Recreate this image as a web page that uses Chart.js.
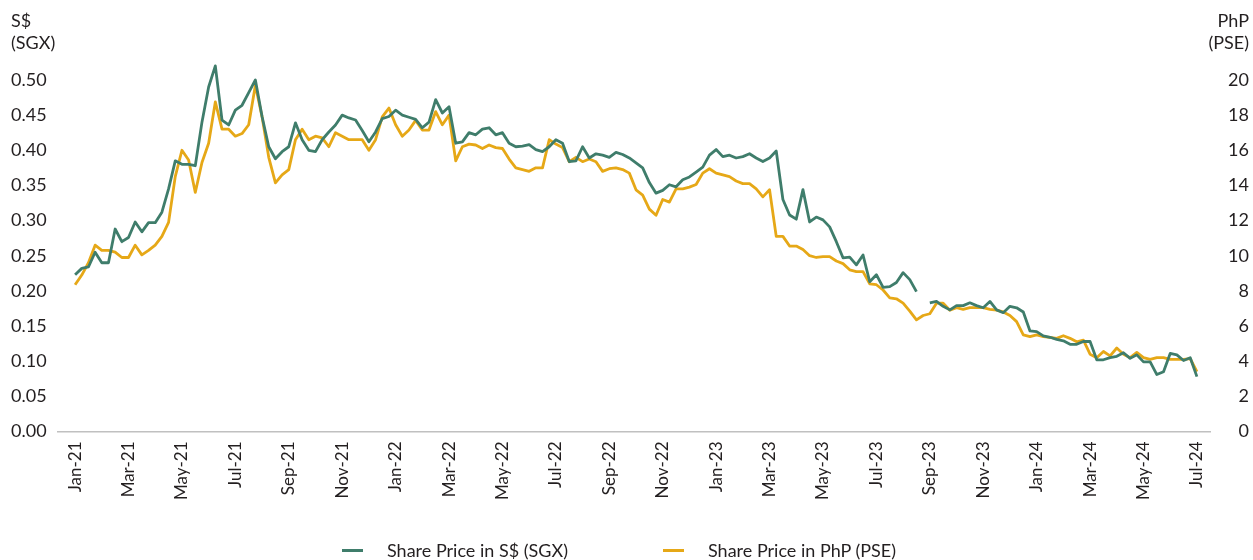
<!DOCTYPE html>
<html>
<head>
<meta charset="utf-8">
<script src="https://cdn.jsdelivr.net/npm/chart.js@4.4.0/dist/chart.umd.min.js"></script>
<style>
html,body{margin:0;padding:0;background:#fff;}
#wrap{position:relative;width:1253px;height:560px;overflow:hidden;}
#c{position:absolute;left:0;top:0;}
.lg{position:absolute;top:539px;height:22px;display:flex;align-items:center;font:18px Lato, sans-serif;color:#231f20;white-space:nowrap;}
.lg i{display:inline-block;width:21px;height:3px;margin-right:24px;}
</style>
</head>
<body>
<div id="wrap">
<canvas id="c" width="1253" height="560"></canvas>
</div>
<script>
// Month tick labels (every 2 months, Jan-21 .. Jul-24)
const xTickLabels = ['Jan-21','Mar-21','May-21','Jul-21','Sep-21','Nov-21','Jan-22','Mar-22','May-22','Jul-22','Sep-22','Nov-22','Jan-23','Mar-23','May-23','Jul-23','Sep-23','Nov-23','Jan-24','Mar-24','May-24','Jul-24'];
const leftTicks = [0,0.05,0.10,0.15,0.20,0.25,0.30,0.35,0.40,0.45,0.50];
const rightTicks = [0,2,4,6,8,10,12,14,16,18,20];
const seriesNames = ['Share Price in S$ (SGX)','Share Price in PhP (PSE)'];
const seriesColors = ['#3f7d6b','#e6a817'];
const leftTitle = ['S$','(SGX)'];
const rightTitle = ['PhP','(PSE)'];

// Weekly readings (4 per month), starting Jan-21
const sgxPrice = [
0.223,0.232,0.234,0.255,0.240,0.240,0.288,0.270,0.276,0.298,0.284,0.297,
0.297,0.312,0.345,0.385,0.380,0.380,0.378,0.440,0.490,0.520,0.443,0.436,
0.457,0.464,0.482,0.500,0.448,0.405,0.388,0.398,0.405,0.439,0.415,0.400,
0.398,0.415,0.426,0.436,0.450,0.446,0.443,0.428,0.412,0.426,0.445,0.448,
0.457,0.450,0.447,0.444,0.432,0.440,0.472,0.453,0.462,0.410,0.412,0.425,
0.422,0.430,0.432,0.422,0.425,0.410,0.405,0.406,0.408,0.401,0.398,0.405,
0.415,0.410,0.384,0.385,0.405,0.389,0.395,0.393,0.390,0.397,0.394,0.389,
0.382,0.375,0.354,0.339,0.343,0.351,0.348,0.358,0.362,0.369,0.376,0.393,
0.401,0.391,0.393,0.389,0.391,0.395,0.389,0.384,0.389,0.399,0.330,0.308,
0.302,0.344,0.298,0.305,0.301,0.291,0.270,0.247,0.248,0.237,0.251,0.213,
0.223,0.205,0.206,0.212,0.226,0.216,0.199,null,0.183,0.185,0.178,0.173,
0.179,0.179,0.183,0.179,0.176,0.185,0.173,0.169,0.178,0.176,0.170,0.143,
0.142,0.136,0.134,0.131,0.129,0.124,0.124,0.128,0.128,0.102,0.102,0.105,
0.107,0.112,0.104,0.109,0.099,0.099,0.081,0.085,0.111,0.109,0.101,0.105,
0.078
];
const psePrice = [
8.35,8.9,9.6,10.6,10.3,10.3,10.2,9.9,9.9,10.6,10.05,10.3,
10.6,11.1,11.9,14.5,16.0,15.45,13.6,15.3,16.4,18.75,17.2,17.2,
16.8,16.95,17.45,19.7,17.9,15.6,14.15,14.6,14.9,16.6,17.2,16.6,
16.8,16.7,16.2,17.0,16.8,16.6,16.6,16.6,16.0,16.6,17.9,18.4,
17.45,16.8,17.15,17.7,17.15,17.15,18.2,17.45,18.0,15.4,16.2,16.35,
16.3,16.1,16.3,16.15,16.1,15.5,15.0,14.9,14.8,15.0,15.0,16.6,
16.35,16.15,15.35,15.6,15.35,15.5,15.35,14.8,14.95,15.0,14.9,14.7,
13.75,13.45,12.65,12.3,13.2,13.05,13.8,13.8,13.9,14.05,14.7,14.95,
14.7,14.6,14.5,14.25,14.1,14.1,13.8,13.35,13.75,11.1,11.1,10.55,
10.55,10.35,10.0,9.9,9.95,9.95,9.7,9.55,9.2,9.1,9.1,8.4,
8.35,8.05,7.6,7.55,7.3,6.85,6.35,6.6,6.7,7.3,7.3,6.9,
7.05,6.95,7.05,7.05,7.05,6.95,6.9,6.8,6.6,6.25,5.5,5.4,
5.5,5.4,5.35,5.3,5.45,5.3,5.1,5.2,4.4,4.2,4.55,4.3,
4.75,4.4,4.2,4.5,4.2,4.1,4.2,4.2,4.1,4.1,4.1,4.15,
3.4
];

const FONT = 'Lato';
const TEXT = '#231f20';

// HTML legend
const wrap = document.getElementById('wrap');
const legendLeft = [342, 663];
seriesNames.forEach((n, k) => {
  const d = document.createElement('div');
  d.className = 'lg';
  d.style.left = legendLeft[k] + 'px';
  const sw = document.createElement('i');
  sw.style.background = seriesColors[k];
  d.appendChild(sw);
  d.appendChild(document.createTextNode(n));
  wrap.appendChild(d);
});

const axisTitles = {
  id: 'axisTitles',
  afterDraw(chart) {
    const ctx = chart.ctx;
    const yl = chart.scales.y, yr = chart.scales.y1;
    ctx.save();
    ctx.font = '18px ' + FONT;
    ctx.fillStyle = TEXT;
    ctx.textBaseline = 'middle';
    ctx.textAlign = 'left';
    ctx.fillText(leftTitle[0], yl.left, 21);
    ctx.fillText(leftTitle[1], yl.left, 43);
    ctx.textAlign = 'right';
    ctx.fillText(rightTitle[0], yr.right, 21);
    ctx.fillText(rightTitle[1], yr.right, 43);
    ctx.restore();
  }
};

new Chart(document.getElementById('c'), {
  type: 'line',
  data: {
    datasets: [
      {
        label: seriesNames[0],
        data: sgxPrice.map((v, i) => ({x: i / 4, y: v})),
        yAxisID: 'y',
        borderColor: seriesColors[0],
        borderWidth: 2.8,
        pointRadius: 0,
        tension: 0,
        spanGaps: false,
        borderJoinStyle: 'round'
      },
      {
        label: seriesNames[1],
        data: psePrice.map((v, i) => ({x: i / 4, y: v})),
        yAxisID: 'y1',
        borderColor: seriesColors[1],
        borderWidth: 2.8,
        pointRadius: 0,
        tension: 0,
        spanGaps: false,
        borderJoinStyle: 'round'
      }
    ]
  },
  options: {
    responsive: false,
    animation: false,
    devicePixelRatio: 1,
    layout: {padding: {left: 11, right: 4, top: 44.8, bottom: 0}},
    plugins: {legend: {display: false}, tooltip: {enabled: false}},
    scales: {
      x: {
        type: 'linear',
        min: -0.64,
        max: 42.49,
        afterBuildTicks: ax => { ax.ticks = xTickLabels.map((_, k) => ({value: k * 2})); },
        ticks: {
          autoSkip: false, minRotation: 90, maxRotation: 90, padding: 10,
          color: TEXT, font: {family: FONT, size: 17},
          callback: v => xTickLabels[Math.round(v / 2)]
        },
        grid: {display: false, drawTicks: false},
        border: {display: true, color: '#c0c0c0', width: 1.5},
        afterFit: s => { s.height = 128.5; }
      },
      y: {
        position: 'left',
        min: 0, max: 0.55,
        afterBuildTicks: ax => { ax.ticks = leftTicks.map(v => ({value: v})); },
        ticks: {crossAlign: 'far', padding: 0, color: TEXT, font: {family: FONT, size: 18}, callback: v => v.toFixed(2)},
        grid: {display: false, drawTicks: false},
        border: {display: false},
        afterFit: s => { s.width = 47; }
      },
      y1: {
        position: 'right',
        min: 0, max: 22,
        afterBuildTicks: ax => { ax.ticks = rightTicks.map(v => ({value: v})); },
        ticks: {crossAlign: 'far', padding: 0, color: TEXT, font: {family: FONT, size: 18}, callback: v => String(v)},
        grid: {display: false, drawTicks: false},
        border: {display: false},
        afterFit: s => { s.width = 39; }
      }
    }
  },
  plugins: [axisTitles]
});
</script>
</body>
</html>
